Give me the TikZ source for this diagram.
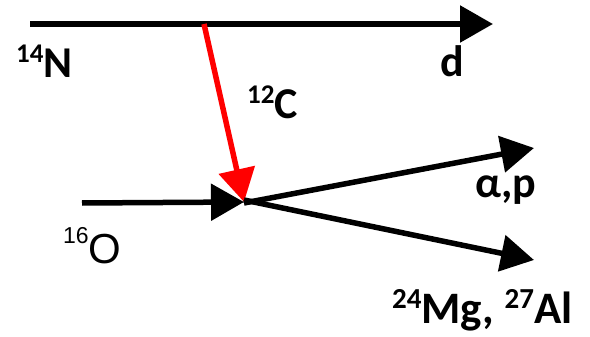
\documentclass[tikz,border=0pt]{standalone}
\usepackage{fontspec}
\setmainfont{Carlito}
\newfontfamily\helv{Liberation Sans}
\usetikzlibrary{arrows.meta}
\tikzset{
  ln/.style={line width=5.5pt, -{Triangle[length=33pt,width=36pt]}},
  lab/.style={inner sep=0pt, anchor=base west, font=\fontsize{44}{44}\selectfont\bfseries},
}
\newcommand\supnum[1]{\raisebox{15pt}{\fontsize{27}{27}\selectfont #1}}
\newcommand\bigsup[1]{\raisebox{15pt}{\fontsize{29}{29}\selectfont #1}}
\begin{document}
\begin{tikzpicture}[x=1pt,y=-1pt]
\useasboundingbox (0,0) rectangle (590,337);
% coordinates
\coordinate (Ns) at (30,24);
\coordinate (Ne) at (493,24);
\coordinate (Cs) at (204,24);
\coordinate (J) at (244,202);
\coordinate (Os) at (82,203);
\coordinate (Up) at (534,148);
\coordinate (Dn) at (534,260);
% arrows
\draw[ln] (Ns) -- (Ne);
\draw[ln, red] (Cs) -- (J);
\draw[ln] (Os) -- (J);
\draw[ln] ([yshift=-1pt]J) -- (Up);
\draw[ln] ([yshift=2pt]J) -- (Dn);
% labels
\node[lab] (n14) at (16,78) {\supnum{14}N};
\node[lab] (d) at (440,77) {d};
\node[lab] (c12) at (247,118) {\supnum{12}C};
\node[lab] (ap) at (475,197) {α,p};
\node[lab, font=\fontsize{45}{45}\selectfont\bfseries] (mg) at (392,323) {\bigsup{24}Mg, \bigsup{27}Al};
\node[inner sep=0pt, anchor=base west, font=\helv\fontsize{42}{42}\selectfont] (o16) at (63,263) {\raisebox{20pt}{\fontsize{23}{23}\selectfont 16}O};
\end{tikzpicture}
\end{document}
